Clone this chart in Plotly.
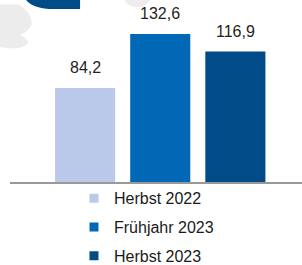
import plotly.graph_objects as go

categories = ["Herbst 2022", "Frühjahr 2023", "Herbst 2023"]
values = [84.2, 132.6, 116.9]
colors = ["#BAC9E9", "#0068B4", "#004B88"]

positions = list(range(len(categories)))

fig = go.Figure()

for i, (cat, val, col) in enumerate(zip(categories, values, colors)):
    fig.add_trace(go.Bar(
        x=[positions[i]], y=[val], width=0.8,
        marker=dict(color=col, line=dict(width=0)),
        name=cat, showlegend=False, hoverinfo="skip",
    ))
    fig.add_trace(go.Scatter(
        x=[None], y=[None], mode="markers",
        marker=dict(symbol="square", size=9, color=col),
        name=cat, legendgroup=cat, showlegend=True,
    ))
    fig.add_annotation(
        x=positions[i], y=val, text=f"{val:.1f}".replace(".", ","),
        showarrow=False, yanchor="bottom", yshift=10,
        font=dict(size=16, color="#1f1f1f", family="Liberation Sans, Arial"),
    )

# background decoration (logo fragments)
fig.add_shape(type="path", xref="paper", yref="paper",
              path="M 0.045 1.0 L 0.24 1.0 L 0.24 0.95 L 0.15 0.95 Q 0.08 0.95 0.055 1.0 Z",
              fillcolor="#004B88", line=dict(width=0), layer="below")
fig.add_shape(type="path", xref="paper", yref="paper",
              path="M -0.035 0.975 L 0.03 0.975 Q 0.075 0.93 0.075 0.87 Q 0.06 0.82 0.035 0.81 "
                   "Q 0.065 0.78 0.06 0.76 Q 0.04 0.73 0.0 0.735 L -0.035 0.74 Z",
              fillcolor="#ECECEC", line=dict(width=0), layer="below")
fig.add_shape(type="circle", xref="paper", yref="paper",
              x0=0.39, x1=0.48, y0=0.96, y1=1.08,
              fillcolor="#EDEDED", line=dict(width=0), layer="below")

fig.update_layout(
    width=302, height=265,
    margin=dict(l=10, r=0, t=0, b=83, autoexpand=False),
    paper_bgcolor="white", plot_bgcolor="white",
    barmode="overlay",
    showlegend=True,
    legend=dict(
        xref="container", yref="container",
        x=0.245, y=0.316, xanchor="left", yanchor="top",
        traceorder="grouped", tracegroupgap=5,
        font=dict(size=16, color="#1a1a1a", family="Liberation Sans, Arial"),
        itemwidth=30, bgcolor="rgba(0,0,0,0)",
    ),
    xaxis=dict(range=[-1, 2.887], showgrid=False, zeroline=False,
               showticklabels=False, ticks="",
               showline=True, linecolor="#999999", linewidth=2),
    yaxis=dict(range=[0, 163.1], visible=False),
)

fig.write_html("out.html", config={"displayModeBar": False},
               post_script="document.body.style.margin='0';document.body.style.overflow='hidden';")
